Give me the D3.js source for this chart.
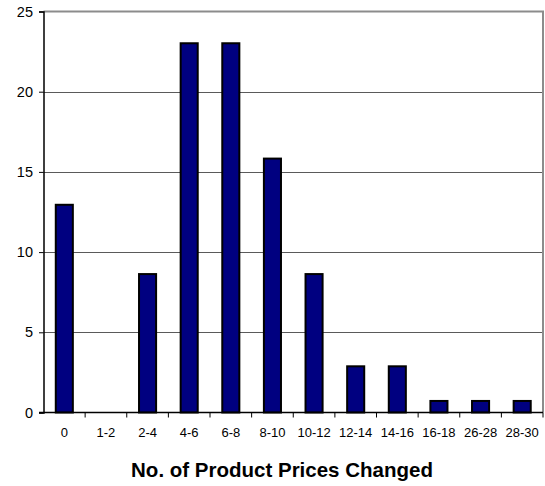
<!DOCTYPE html>
<html>
<head>
<meta charset="utf-8">
<script src="https://cdn.jsdelivr.net/npm/d3@7"></script>
<style>
  html, body { margin: 0; padding: 0; background: #fff; }
  svg { display: block; }
</style>
</head>
<body>
<svg id="chart" width="545" height="486"></svg>
<script>
// Share of products (%) by number of price changes
const categories = ["0", "1-2", "2-4", "4-6", "6-8", "8-10", "10-12", "12-14", "14-16", "16-18", "26-28", "28-30"];
const values = [12.95, 0, 8.63, 23.02, 23.02, 15.83, 8.63, 2.88, 2.88, 0.72, 0.72, 0.72];
const yTicks = [0, 5, 10, 15, 20, 25];
const xTitle = "No. of Product Prices Changed";

const svg = d3.select("#chart");
const plotLeft = 43.5, plotRight = 543, plotTop = 11.5, plotBottom = 412.5;

const x = d3.scaleBand().domain(categories).range([plotLeft, plotRight]).paddingInner(0.59).paddingOuter(0.295);
const xEdges = d3.scaleBand().domain(categories).range([plotLeft, plotRight]);
const y = d3.scaleLinear().domain([0, 25]).range([plotBottom, plotTop]);

// horizontal gridlines
svg.append("g")
  .selectAll("line")
  .data(yTicks.filter(t => t > 0 && t < 25))
  .join("line")
  .attr("x1", plotLeft).attr("x2", plotRight)
  .attr("y1", d => Math.round(y(d)) + 0.5).attr("y2", d => Math.round(y(d)) + 0.5)
  .attr("stroke", "#5a5a5a").attr("stroke-width", 1);

// plot-area border (top and right)
svg.append("path")
  .attr("d", `M${plotLeft},${plotTop}H${plotRight}V${plotBottom}`)
  .attr("fill", "none").attr("stroke", "#8c8c8c").attr("stroke-width", 2);

// bars
svg.append("g")
  .selectAll("rect")
  .data(values.map((v, i) => ({ cat: categories[i], v })).filter(d => d.v > 0))
  .join("rect")
  .attr("x", d => x(d.cat))
  .attr("width", x.bandwidth())
  .attr("y", d => y(d.v))
  .attr("height", d => y(0) - y(d.v))
  .attr("fill", "#000080")
  .attr("stroke", "#000")
  .attr("stroke-width", 2);

// y axis
const yAxis = d3.axisLeft(y).tickValues(yTicks).tickSize(4.5).tickPadding(6).tickFormat(d3.format("d"));
svg.append("g")
  .attr("transform", `translate(${plotLeft},0)`)
  .call(yAxis)
  .call(g => g.select(".domain").attr("stroke", "#000").attr("stroke-width", 1.5))
  .call(g => g.selectAll(".tick line").attr("stroke", "#000"))
  .call(g => g.selectAll("text").attr("font-family", "Liberation Sans, Arial, sans-serif").attr("font-size", 14.5).attr("fill", "#000"));

// x axis: ticks sit between categories
const xAxisG = svg.append("g").attr("transform", `translate(0,${plotBottom})`);
xAxisG.append("line")
  .attr("x1", plotLeft - 4.5).attr("x2", plotRight)
  .attr("stroke", "#000").attr("stroke-width", 1.5);
xAxisG.selectAll("line.tk")
  .data(categories)
  .join("line")
  .attr("class", "tk")
  .attr("x1", d => xEdges(d) + xEdges.bandwidth()).attr("x2", d => xEdges(d) + xEdges.bandwidth())
  .attr("y1", 0).attr("y2", 5)
  .attr("stroke", "#000");
xAxisG.selectAll("text")
  .data(categories)
  .join("text")
  .attr("x", d => xEdges(d) + xEdges.bandwidth() / 2)
  .attr("y", 24.5)
  .attr("text-anchor", "middle")
  .attr("font-family", "Liberation Sans, Arial, sans-serif")
  .attr("font-size", 13)
  .attr("fill", "#000")
  .text(d => d);

// axis title
svg.append("text")
  .attr("x", 282).attr("y", 477)
  .attr("text-anchor", "middle")
  .attr("font-family", "Liberation Sans, Arial, sans-serif")
  .attr("font-size", 20.5)
  .attr("font-weight", "bold")
  .attr("fill", "#000")
  .text(xTitle);
</script>
</body>
</html>
